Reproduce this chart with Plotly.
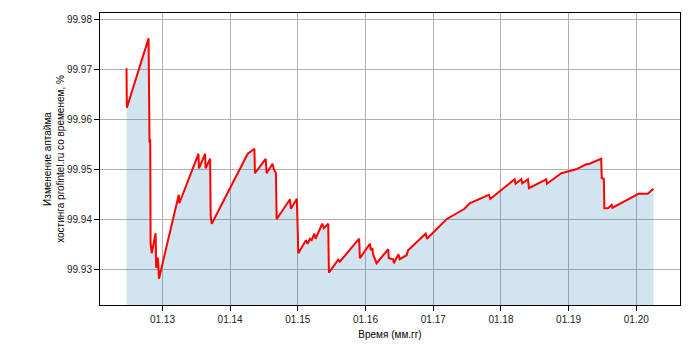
import plotly.graph_objects as go

dates = [
    "2012-06-21", "2012-06-22", "2012-06-23", "2012-10-18", "2012-10-21", "2012-10-23",
    "2012-10-27", "2012-10-29", "2012-11-04", "2012-11-25", "2012-11-28", "2012-12-08",
    "2012-12-13", "2013-03-30", "2013-04-02", "2013-07-14", "2013-07-17", "2013-08-19",
    "2013-08-22", "2013-09-15", "2013-09-18", "2013-09-24", "2014-04-06", "2014-05-12",
    "2014-05-15", "2014-07-12", "2014-07-17", "2014-08-18", "2014-08-25", "2014-09-05",
    "2014-09-09", "2014-11-20", "2014-11-25", "2014-12-27", "2015-01-04", "2015-02-14",
    "2015-02-23", "2015-03-07", "2015-03-17", "2015-03-31", "2015-04-07", "2015-05-13",
    "2015-05-22", "2015-06-14", "2015-06-18", "2015-08-07", "2015-08-16", "2015-11-28",
    "2015-12-02", "2016-01-25", "2016-01-30", "2016-02-08", "2016-02-11", "2016-03-01",
    "2016-05-03", "2016-05-06", "2016-05-30", "2016-06-02", "2016-06-27", "2016-07-04",
    "2016-08-10", "2016-08-18", "2016-11-21", "2016-11-28", "2017-03-13", "2017-06-19",
    "2017-07-16", "2017-09-08", "2017-09-26", "2017-10-28", "2017-11-05", "2018-03-16",
    "2018-03-21", "2018-04-21", "2018-04-26", "2018-05-27", "2018-06-01", "2018-09-03",
    "2018-09-06", "2018-11-23", "2019-02-11", "2019-04-06", "2019-04-24", "2019-06-26",
    "2019-06-29", "2019-07-10", "2019-07-13", "2019-08-02", "2019-08-21", "2019-08-26",
    "2020-01-13", "2020-03-03", "2020-04-03",
]
uptime = [
    99.9703, 99.9659, 99.9624, 99.9763, 99.9629, 99.9555,
    99.9561, 99.9353, 99.9333, 99.9373, 99.9304, 99.9324,
    99.9282, 99.9450, 99.9433, 99.9532, 99.9503, 99.9532,
    99.9503, 99.9522, 99.9408, 99.9392, 99.9532, 99.9542,
    99.9493, 99.9522, 99.9493, 99.9512, 99.9501, 99.9493,
    99.9401, 99.9441, 99.9422, 99.9442, 99.9333, 99.9359,
    99.9352, 99.9362, 99.9359, 99.9372, 99.9362, 99.9392,
    99.9383, 99.9392, 99.9294, 99.9320, 99.9316, 99.9362,
    99.9323, 99.9352, 99.9339, 99.9343, 99.9331, 99.9313,
    99.9341, 99.9323, 99.9321, 99.9313, 99.9331, 99.9321,
    99.9329, 99.9339, 99.9372, 99.9362, 99.9401, 99.9422,
    99.9433, 99.9442, 99.9444, 99.9450, 99.9442, 99.9481,
    99.9472, 99.9481, 99.9473, 99.9481, 99.9463, 99.9481,
    99.9472, 99.9493, 99.9501, 99.9511, 99.9512, 99.9522,
    99.9483, 99.9482, 99.9423, 99.9423, 99.9430, 99.9424,
    99.9452, 99.9452, 99.9462,
]

y_ticks = [99.93, 99.94, 99.95, 99.96, 99.97, 99.98]
x_title = "Время (мм.гг)"
y_title = "Изменение аптайма<br>хостинга profintel.ru со временем, %"

fig = go.Figure()
fig.add_trace(go.Scatter(
    x=dates, y=uptime, mode="lines", fill="tozeroy",
    line=dict(width=0, color="rgba(31,119,180,0)"),
    fillcolor="rgba(31,119,180,0.2)", hoverinfo="skip", showlegend=False,
))
fig.add_trace(go.Scatter(
    x=dates, y=uptime, mode="lines",
    line=dict(color="#ff0000", width=2), showlegend=False,
))

axis_common = dict(
    showline=True, linecolor="black", linewidth=1, mirror=True,
    ticks="outside", ticklen=5, tickcolor="black", tickwidth=1,
    showgrid=True, gridcolor="#b0b0b0", gridwidth=1, zeroline=False,
    tickfont=dict(family="Liberation Sans, Arial, sans-serif", size=10, color="#222"),
)

fig.update_layout(
    width=700, height=350,
    margin=dict(l=100, r=20, t=13, b=39),
    paper_bgcolor="white", plot_bgcolor="white",
    font=dict(family="Liberation Sans, Arial, sans-serif", size=10, color="black"),
    xaxis=dict(
        axis_common, type="date",
        range=["2012-01-30", "2020-08-24"],
        tick0="2013-01-01", dtick="M12", tickformat="%m.%y",
        title=dict(text=x_title, standoff=6, font=dict(size=10)),
    ),
    yaxis=dict(
        axis_common, range=[99.92294, 99.98137],
        tickvals=y_ticks, ticktext=[f"{v:.2f}" for v in y_ticks],
        title=dict(text=y_title, standoff=0, font=dict(size=10)),
    ),
)

fig.write_html("out.html")
